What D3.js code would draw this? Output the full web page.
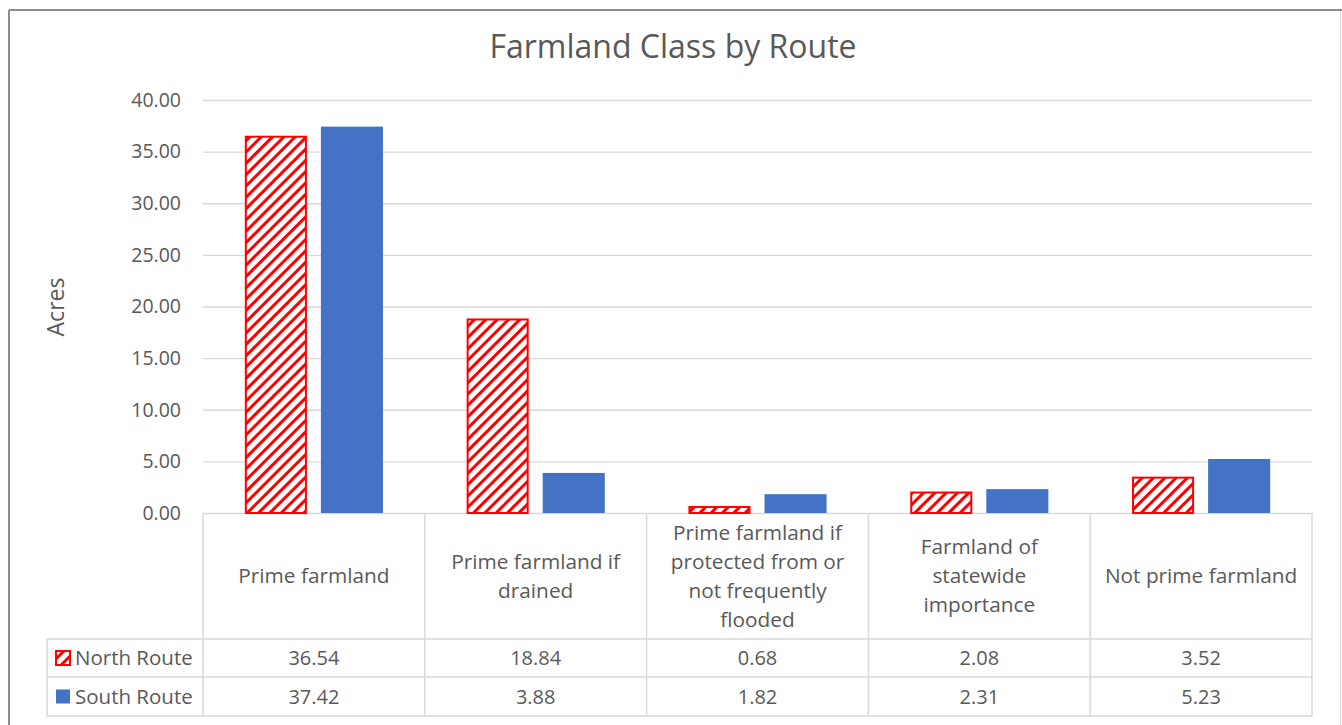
<!DOCTYPE html>
<html>
<head>
<meta charset="utf-8">
<script src="https://cdn.jsdelivr.net/npm/d3@7"></script>
<style>
  html, body { margin: 0; padding: 0; background: #fff; }
  svg { display: block; font-family: "Open Sans", sans-serif; }
</style>
</head>
<body>
<svg id="chart" width="1342" height="725"></svg>
<script>
const categories = [
  "Prime farmland",
  "Prime farmland if drained",
  "Prime farmland if protected from or not frequently flooded",
  "Farmland of statewide importance",
  "Not prime farmland",
];
const categoryLines = [
  ["Prime farmland"],
  ["Prime farmland if", "drained"],
  ["Prime farmland if", "protected from or", "not frequently", "flooded"],
  ["Farmland of", "statewide", "importance"],
  ["Not prime farmland"],
];
const seriesNames = ["North Route", "South Route"];
const northValues = [36.54, 18.84, 0.68, 2.08, 3.52];
const southValues = [37.42, 3.88, 1.82, 2.31, 5.23];
const yTicks = [0, 5, 10, 15, 20, 25, 30, 35, 40];

const textColor = "#595959";
const gridColor = "#d9d9d9";
const blue = "#4472c4";
const red = "#ff0000";

const svg = d3.select("#chart");
const margin = { left: 203, right: 1312, top: 100, bottom: 513 };
const rowTops = [513, 639, 677, 716];
const tableLeft = 47;

// outer frame
svg.append("line").attr("x1", 9).attr("x2", 1342).attr("y1", 10).attr("y2", 10).attr("stroke", "#8c8c8c").attr("stroke-width", 2);
svg.append("line").attr("x1", 9).attr("x2", 9).attr("y1", 10).attr("y2", 725).attr("stroke", "#8c8c8c").attr("stroke-width", 2);
svg.append("line").attr("x1", 1340.5).attr("x2", 1340.5).attr("y1", 11).attr("y2", 725).attr("stroke", gridColor).attr("stroke-width", 1);

const defs = svg.append("defs");
const pattern = defs.append("pattern")
  .attr("id", "hatch")
  .attr("patternUnits", "userSpaceOnUse")
  .attr("width", 8)
  .attr("height", 8)
  .attr("patternTransform", "rotate(45)");
pattern.append("rect").attr("width", 8).attr("height", 8).attr("fill", "#fff");
pattern.append("rect").attr("width", 3).attr("height", 8).attr("fill", red);

const x = d3.scaleBand().domain(categories).range([margin.left, margin.right]).paddingInner(0).paddingOuter(0);
const xInner = d3.scaleBand().domain(seriesNames).range([0, x.bandwidth()]).paddingInner(0.184).paddingOuter(0.55);
const y = d3.scaleLinear().domain([0, 40]).range([margin.bottom, margin.top]);

// title
svg.append("text")
  .attr("x", 673).attr("y", 58)
  .attr("text-anchor", "middle")
  .attr("fill", textColor)
  .attr("font-size", 32)
  .text("Farmland Class by Route");

// grid
svg.append("g")
  .attr("transform", `translate(${margin.left},0)`)
  .call(d3.axisLeft(y).tickValues(yTicks).tickSize(-(margin.right - margin.left)).tickFormat(""))
  .call((g) => g.select(".domain").remove())
  .call((g) => g.selectAll("line").attr("stroke", gridColor).attr("stroke-width", 1.3));

// y axis labels
svg.append("g")
  .attr("transform", "translate(181,0)")
  .call(d3.axisLeft(y).tickValues(yTicks).tickSize(0).tickPadding(0).tickFormat(d3.format(".2f")))
  .call((g) => g.select(".domain").remove())
  .call((g) => g.selectAll("text").attr("fill", textColor).attr("font-size", 19.5).attr("font-family", "Open Sans, sans-serif"));

svg.append("text")
  .attr("transform", "translate(55,307) rotate(-90)")
  .attr("text-anchor", "middle")
  .attr("dominant-baseline", "central")
  .attr("fill", textColor)
  .attr("font-size", 23)
  .text("Acres");

// bars
const seriesData = [
  { name: seriesNames[0], values: northValues, fill: "url(#hatch)", stroke: red },
  { name: seriesNames[1], values: southValues, fill: blue, stroke: "none" },
];

seriesData.forEach((s) => {
  svg.append("g")
    .selectAll("rect")
    .data(s.values)
    .join("rect")
    .attr("x", (d, i) => x(categories[i]) + xInner(s.name) + (s.stroke === "none" ? 0 : 1))
    .attr("y", (d) => y(d) + (s.stroke === "none" ? 0 : 1))
    .attr("width", xInner.bandwidth() - (s.stroke === "none" ? 0 : 2))
    .attr("height", (d) => y(0) - y(d) - (s.stroke === "none" ? 0 : 1))
    .attr("fill", s.fill)
    .attr("stroke", s.stroke)
    .attr("stroke-width", 2);
});

// data table
const table = svg.append("g").attr("stroke", gridColor).attr("stroke-width", 1.5);
const bounds = categories.map((c) => x(c)).concat([margin.right]);
table.selectAll("line.v")
  .data(bounds)
  .join("line")
  .attr("x1", (d) => d).attr("x2", (d) => d)
  .attr("y1", rowTops[0]).attr("y2", rowTops[3]);
table.append("line").attr("x1", tableLeft).attr("x2", tableLeft).attr("y1", rowTops[1]).attr("y2", rowTops[3]);
table.selectAll("line.h")
  .data(rowTops.slice(1))
  .join("line")
  .attr("x1", tableLeft).attr("x2", margin.right)
  .attr("y1", (d) => d).attr("y2", (d) => d);

// category header labels
const lineH = 29;
const headerMid = (rowTops[0] + rowTops[1]) / 2;
categories.forEach((c, i) => {
  const lines = categoryLines[i];
  const t = svg.append("text")
    .attr("text-anchor", "middle")
    .attr("fill", textColor)
    .attr("font-size", 20.8);
  lines.forEach((ln, j) => {
    t.append("tspan")
      .attr("x", x(c) + x.bandwidth() / 2)
      .attr("y", headerMid + (j - (lines.length - 1) / 2) * lineH)
      .attr("dy", "0.35em")
      .text(ln);
  });
});

// value rows
seriesData.forEach((s, r) => {
  const cy = (rowTops[r + 1] + rowTops[r + 2]) / 2;
  svg.append("rect")
    .attr("x", 56).attr("y", cy - 7)
    .attr("width", 14).attr("height", 14)
    .attr("fill", s.stroke === "none" ? blue : "url(#hatch)")
    .attr("stroke", s.stroke)
    .attr("stroke-width", s.stroke === "none" ? 0 : 2);
  svg.append("text")
    .attr("x", 75).attr("y", cy)
    .attr("dy", "0.35em")
    .attr("fill", textColor)
    .attr("font-size", 20.5)
    .text(s.name);
  svg.append("g")
    .selectAll("text")
    .data(s.values)
    .join("text")
    .attr("x", (d, i) => x(categories[i]) + x.bandwidth() / 2)
    .attr("y", cy)
    .attr("dy", "0.35em")
    .attr("text-anchor", "middle")
    .attr("fill", textColor)
    .attr("font-size", 20)
    .text((d) => d3.format(".2f")(d));
});
</script>
</body>
</html>
